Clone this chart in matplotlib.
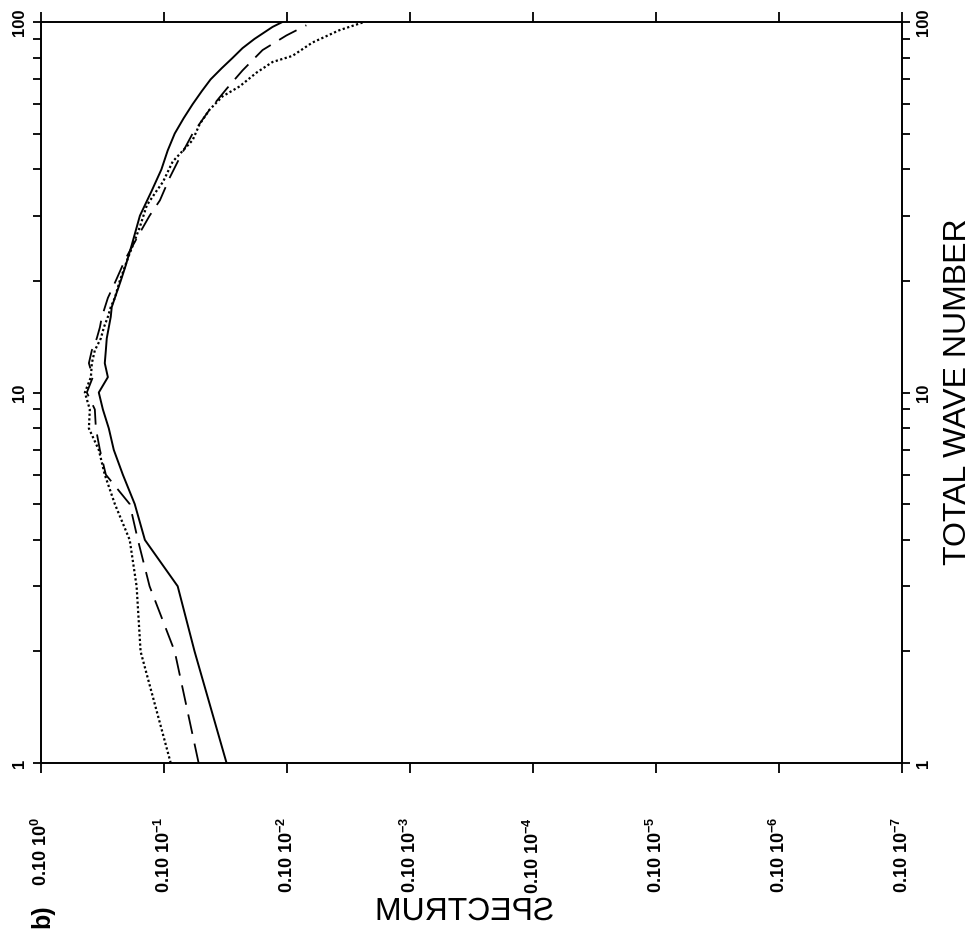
import matplotlib
matplotlib.use("Agg")
import matplotlib.pyplot as plt
from matplotlib.ticker import FixedLocator, FixedFormatter, NullFormatter, NullLocator
from matplotlib.patheffects import AbstractPathEffect
from matplotlib.transforms import Affine2D

plt.rcParams['font.family'] = ['Liberation Sans', 'DejaVu Sans']
plt.rcParams['mathtext.fontset'] = 'custom'
plt.rcParams['mathtext.rm'] = 'Liberation Sans'
plt.rcParams['mathtext.bf'] = 'Liberation Sans:bold'
plt.rcParams['mathtext.it'] = 'Liberation Sans:italic'

# ---- data ----
wave_solid = [1, 2, 3, 4, 5, 6, 7, 8, 9, 10, 11, 12, 13, 14, 15, 16, 17, 18, 20, 22, 25,
              30, 35, 40, 45, 50, 55, 60, 65, 70, 75, 80, 85, 90, 95, 97, 100]
spec_solid = [0.00310, 0.00564, 0.00774, 0.0143, 0.0173, 0.0216, 0.0256, 0.0281, 0.0314,
              0.0339, 0.0286, 0.0303, 0.0297, 0.0292, 0.0281, 0.0271, 0.0266, 0.0251,
              0.0225, 0.0205, 0.0183, 0.0157, 0.0126, 0.0105, 0.00933, 0.00818, 0.00692,
              0.00585, 0.00494, 0.00418, 0.00340, 0.00277, 0.00230, 0.00184, 0.00144,
              0.00131, 0.00109]

wave_dashed = [1, 2, 3, 4, 5, 6, 7, 8, 9, 10, 11, 12, 13, 14, 15, 16, 18, 20, 23, 27, 30,
               33, 38, 43, 50, 58, 66, 74, 84, 92, 98]
spec_dashed = [0.00523, 0.00818, 0.0131, 0.0163, 0.0190, 0.0297, 0.0332, 0.0358, 0.0365,
               0.0424, 0.0379, 0.0408, 0.0386, 0.0352, 0.0332, 0.0320, 0.0286, 0.0247,
               0.0205, 0.0157, 0.0131, 0.0108, 0.00899, 0.00746, 0.00585, 0.00426,
               0.00310, 0.00230, 0.00158, 0.00101, 0.000696]

wave_dotted = [1, 2, 3, 4, 5, 6, 7, 8, 9, 10, 11, 12, 13, 14, 15, 16, 17, 18, 20, 23, 28,
               32, 35, 37, 42, 44, 48, 53, 58, 63, 67, 73, 78, 81, 88, 95, 100]
spec_dotted = [0.00882, 0.0155, 0.0167, 0.0190, 0.0251, 0.0303, 0.0339, 0.0408, 0.0401,
               0.0440, 0.0393, 0.0386, 0.0365, 0.0326, 0.0308, 0.0286, 0.0271, 0.0251,
               0.0229, 0.0197, 0.0157, 0.0138, 0.0115, 0.0102, 0.0085, 0.00746, 0.00585,
               0.00513, 0.00426, 0.00334, 0.00243, 0.00177, 0.00131, 0.000904, 0.000622,
               0.000376, 0.000236]

spec_ticks = [1e-1, 1e-2, 1e-3, 1e-4, 1e-5, 1e-6, 1e-7, 1e-8]
spec_tick_labels = [r'$\mathbf{0.10\ 10^{0}}$', r'$\mathbf{0.10\ 10^{-1}}$',
                    r'$\mathbf{0.10\ 10^{-2}}$', r'$\mathbf{0.10\ 10^{-3}}$',
                    r'$\mathbf{0.10\ 10^{-4}}$', r'$\mathbf{0.10\ 10^{-5}}$',
                    r'$\mathbf{0.10\ 10^{-6}}$', r'$\mathbf{0.10\ 10^{-7}}$']
wave_ticks = [1, 10, 100]
wave_tick_labels = ['1', '10', '100']
wave_minor = [2, 3, 4, 5, 6, 7, 8, 9, 20, 30, 40, 50, 60, 70, 80, 90]


class Mirror(AbstractPathEffect):
    """Draw text mirrored left-right about its own centre (as in the scan)."""
    def draw_path(self, renderer, gc, tpath, affine, rgbFace=None):
        ext = tpath.get_extents(affine)
        cx = 0.5 * (ext.x0 + ext.x1)
        m = Affine2D(affine.get_matrix()).translate(-cx, 0).scale(-1, 1).translate(cx, 0)
        renderer.draw_path(gc, tpath, m, rgbFace)


fig = plt.figure(figsize=(9.74, 9.47), dpi=100)
ax = fig.add_axes([41 / 974, 1 - 763 / 947, 861 / 974, 741 / 947])

ax.plot(spec_solid, wave_solid, color='black', lw=1.4, ls='-')
ax.plot(spec_dashed, wave_dashed, color='black', lw=1.3, ls=(0, (11, 5.5)))
ax.plot(spec_dotted, wave_dotted, color='black', lw=1.6, ls=(0, (1, 1.1)))

ax.set_xscale('log')
ax.set_yscale('log')
ax.set_xlim(1e-1, 1e-8)
ax.set_ylim(1, 100)

ax.xaxis.set_major_locator(FixedLocator(spec_ticks))
ax.xaxis.set_major_formatter(FixedFormatter(spec_tick_labels))
ax.xaxis.set_minor_locator(NullLocator())
ax.yaxis.set_major_locator(FixedLocator(wave_ticks))
ax.yaxis.set_major_formatter(FixedFormatter(wave_tick_labels))
ax.yaxis.set_minor_locator(FixedLocator(wave_minor))
ax.yaxis.set_minor_formatter(NullFormatter())

for s in ax.spines.values():
    s.set_linewidth(1.4)

ax.tick_params(axis='x', which='major', direction='out', length=7, width=1.3,
               top=True, bottom=True, labeltop=False, labelbottom=True,
               labelrotation=90, pad=32, labelsize=13)
ax.tick_params(axis='y', which='both', direction='out', length=6, width=1.3,
               left=True, right=True, labelleft=True, labelright=True)
ax.tick_params(axis='y', which='major', labelrotation=90, labelsize=12, pad=4)
for lab in ax.get_yticklabels():
    lab.set_fontweight('bold')
for lab in ax.yaxis.get_ticklabels(which='major'):
    lab.set_verticalalignment('center')

ax.set_xlabel('SPECTRUM', fontsize=23, ha='center', va='center',
              path_effects=[Mirror()])
ax.xaxis.set_label_coords((466 - 41) / 861, -(912 - 763) / 741)

ax.yaxis.set_label_position('right')
ax.set_ylabel('TOTAL WAVE NUMBER', fontsize=23, rotation=90, ha='center', va='center')
ax.yaxis.set_label_coords((958 - 41) / 861, (763 - 392) / 741)

fig.text(42 / 974, 1 - 916 / 947, 'b)', rotation=90, fontsize=18, fontweight='bold',
         ha='center', va='center')

fig.savefig('out.png', dpi=100)
